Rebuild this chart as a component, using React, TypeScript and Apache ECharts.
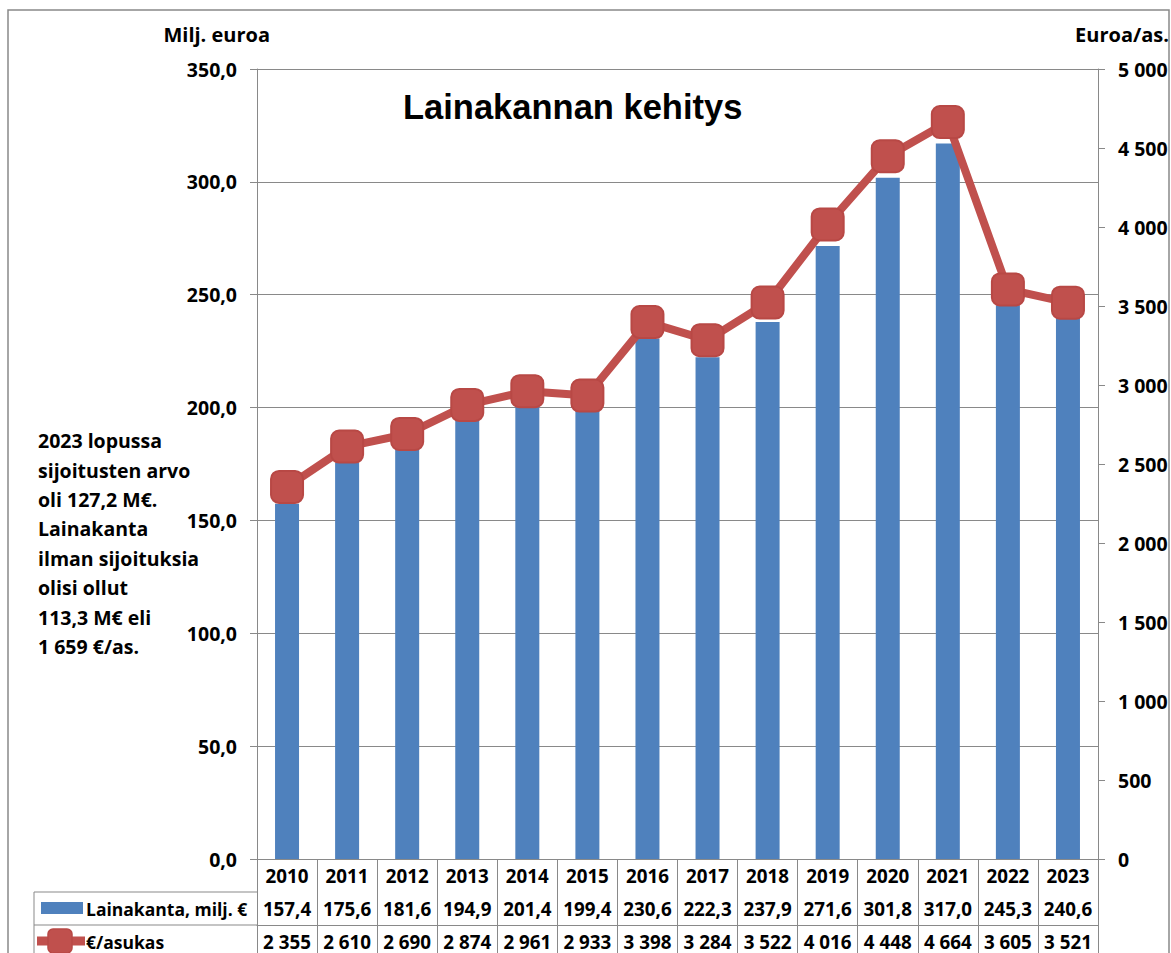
import React, { useEffect, useRef } from "react";
import * as echarts from "echarts";

const years = ["2010","2011","2012","2013","2014","2015","2016","2017","2018","2019","2020","2021","2022","2023"];
const loanStock = [157.4,175.6,181.6,194.9,201.4,199.4,230.6,222.3,237.9,271.6,301.8,317.0,245.3,240.6];
const perResident = [2355,2610,2690,2874,2961,2933,3398,3284,3522,4016,4448,4664,3605,3521];
const seriesNames = ["Lainakanta, milj. €", "€/asukas"];
const noteLines = [
  "2023 lopussa",
  "sijoitusten arvo",
  "oli 127,2 M€.",
  "Lainakanta",
  "ilman sijoituksia",
  "olisi ollut",
  "113,3 M€ eli",
  "1 659 €/as.",
];

const FONT = "'Open Sans'";
const GREY = "#898989";
const BLUE = "#4F81BD";
const RED = "#C0504D";

const fmt1 = (v: number) => v.toFixed(1).replace(".", ",");
const fmtThousands = (v: number) => {
  const s = String(Math.round(v));
  return s.replace(/\B(?=(\d{3})+(?!\d))/g, " ");
};

export default function App() {
  const ref = useRef<HTMLDivElement>(null);
  useEffect(() => {
    if (!ref.current) return;
    const chart = echarts.init(ref.current, undefined, { renderer: "svg" });
    const tableStyle = { fontFamily: FONT, fontWeight: "bold" as const, fontSize: 18.8, color: "#000", interval: 0, hideOverlap: false };
    const axisStyle = { fontFamily: FONT, fontWeight: "bold" as const, fontSize: 19.5, color: "#000" };
    const gridLeft = 257, gridRight = 1098, gridTop = 69, gridBottom = 859;
    const option: any = {
      animation: false,
      backgroundColor: "#fff",
      grid: { left: gridLeft, right: 1171 - gridRight, top: gridTop, bottom: 953 - gridBottom },
      xAxis: [
        {
          type: "category",
          data: years,
          position: "bottom",
          axisLine: { show: true, lineStyle: { color: GREY, width: 1 } },
          axisTick: { show: true, interval: 0, length: 94, lineStyle: { color: GREY, width: 1 } },
          axisLabel: { ...tableStyle, margin: 7 },
        },
        {
          type: "category",
          data: loanStock.map(fmt1),
          position: "bottom",
          offset: 33,
          axisLine: { show: true, lineStyle: { color: GREY, width: 1 } },
          axisTick: { show: false },
          axisLabel: { ...tableStyle, margin: 7 },
        },
        {
          type: "category",
          data: perResident.map(fmtThousands),
          position: "bottom",
          offset: 66,
          axisLine: { show: true, lineStyle: { color: GREY, width: 1 } },
          axisTick: { show: false },
          axisLabel: { ...tableStyle, margin: 7 },
        },
      ],
      yAxis: [
        {
          type: "value",
          min: 0,
          max: 350,
          interval: 50,
          position: "left",
          axisLine: { show: true, lineStyle: { color: GREY } },
          axisTick: { show: true, length: 7, lineStyle: { color: GREY } },
          splitLine: { show: true, lineStyle: { color: GREY, width: 1 } },
          axisLabel: { ...axisStyle, margin: 20, formatter: (v: number) => fmt1(v) },
        },
        {
          type: "value",
          min: 0,
          max: 5000,
          interval: 500,
          position: "right",
          axisLine: { show: true, lineStyle: { color: GREY } },
          axisTick: { show: true, length: 7, lineStyle: { color: GREY } },
          splitLine: { show: false },
          axisLabel: { ...axisStyle, margin: 20, formatter: (v: number) => fmtThousands(v) },
        },
      ],
      series: [
        {
          name: seriesNames[0],
          type: "bar",
          xAxisIndex: 0,
          yAxisIndex: 0,
          data: loanStock,
          barWidth: 24,
          itemStyle: { color: BLUE },
        },
        {
          name: seriesNames[1],
          type: "line",
          xAxisIndex: 0,
          yAxisIndex: 1,
          data: perResident,
          symbol: "roundRect",
          symbolSize: 32,
          lineStyle: { color: RED, width: 8 },
          itemStyle: { color: RED, borderColor: "#B84845", borderWidth: 2 },
          z: 5,
        },
      ],
      graphic: [
        {
          type: "rect",
          shape: { x: 8, y: 10, width: 1161, height: 1000 },
          style: { fill: "none", stroke: GREY, lineWidth: 1.5 },
          silent: true,
          z: -10,
        },
        {
          type: "text",
          x: 403,
          y: 89,
          style: { text: "Lainakannan kehitys", font: "bold 34.5px 'Liberation Sans', Arial, sans-serif", fill: "#000" },
        },
        {
          type: "text",
          x: 270,
          y: 34,
          style: { text: "Milj. euroa", font: `bold 20px ${FONT}`, fill: "#000", align: "right", verticalAlign: "middle" },
        },
        {
          type: "text",
          x: 1169,
          y: 34,
          style: { text: "Euroa/as.", font: `bold 20px ${FONT}`, fill: "#000", align: "right", verticalAlign: "middle" },
        },
        {
          type: "text",
          x: 38,
          y: 426,
          style: {
            text: noteLines.join("\n"),
            font: `bold 19.5px ${FONT}`,
            lineHeight: 29.4,
            fill: "#000",
          },
        },
        { type: "line", shape: { x1: 34, y1: 892, x2: 257, y2: 892 }, style: { stroke: GREY, lineWidth: 1 } },
        { type: "line", shape: { x1: 34, y1: 925, x2: 257, y2: 925 }, style: { stroke: GREY, lineWidth: 1 } },
        { type: "line", shape: { x1: 34, y1: 892, x2: 34, y2: 953 }, style: { stroke: GREY, lineWidth: 1 } },
        // legend keys
        { type: "rect", shape: { x: 41, y: 902, width: 42, height: 12 }, style: { fill: BLUE } },
        {
          type: "text",
          x: 86,
          y: 909,
          style: { text: seriesNames[0], font: `bold 17.5px ${FONT}`, fill: "#000", verticalAlign: "middle" },
        },
        { type: "line", shape: { x1: 37, y1: 941, x2: 85, y2: 941 }, style: { stroke: RED, lineWidth: 9 } },
        {
          type: "rect",
          shape: { x: 48, y: 929, width: 24, height: 24, r: 5 },
          style: { fill: RED, stroke: "#B84845", lineWidth: 1.5 },
        },
        {
          type: "text",
          x: 86,
          y: 942,
          style: { text: seriesNames[1], font: `bold 17.5px ${FONT}`, fill: "#000", verticalAlign: "middle" },
        },
      ],
    };
    chart.setOption(option);
    return () => chart.dispose();
  }, []);
  return (
    <div
      ref={ref}
      style={{ position: "fixed", left: 0, top: 0, width: 1171, height: 953 }}
    />
  );
}
